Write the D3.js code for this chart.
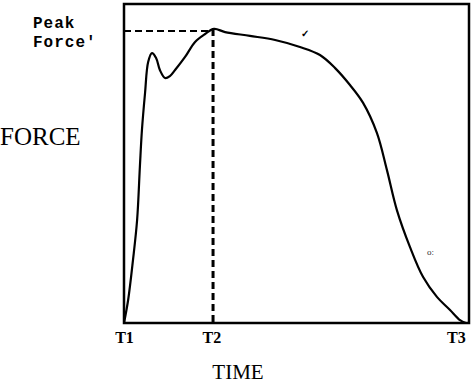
<!DOCTYPE html>
<html>
<head>
<meta charset="utf-8" />
<style>
	body { margin: 0; background: #fff; }
	.curve { fill: none; stroke: #000; stroke-width: 2.2px; }
	.frame { fill: none; stroke: #000; stroke-width: 2.5px; }
	.guide { fill: none; stroke: #000; stroke-dasharray: 7,4; }
	.timeAxis path, .timeAxis line { display: none; }
	.timeAxis text { font-family: 'Liberation Serif', serif; font-weight: bold; font-size: 16px; fill: #000; }
	.ylab, .xlab { font-family: 'Liberation Serif', serif; fill: #000; }
	.peak { font-family: 'Liberation Mono', monospace; font-weight: bold; font-size: 16px; letter-spacing: 1px; fill: #000; }
</style>
</head>
<body>
<div id="chart"></div>
<script src="https://d3js.org/d3.v7.min.js"></script>
<script>

// time (0..100) and force (0..100)
var times  = [0, 1.2, 2.6, 3.8, 4.6, 5.2, 6.1, 7.0, 8.1, 9.3, 10.4, 11.9, 13.3, 14.8, 17.7, 20.6, 23.5, 26.1,
              29.3, 36.5, 43.8, 51.0, 56.8, 61.2, 65.5, 69.3, 73.3, 76.2, 79.1, 82.9, 86.7, 90.7, 94.5, 97.4, 99.1];
var forces = [0, 7.2, 19.7, 32.3, 48.9, 60.5, 72.1, 81.8, 84.6, 83.1, 79.3, 76.8, 77.4, 79.3, 83.4, 88.1, 90.6, 92.2,
              91.2, 90.0, 88.7, 86.5, 84.0, 79.9, 74.6, 69.0, 59.6, 48.0, 35.4, 23.8, 14.4, 8.2, 4.1, 0.9, 0];

var tickTimes  = [0, 25.3, 96.2];
var tickLabels = ['T1', 'T2', 'T3'];

var peakTime = 26.1, peakForce = 92.2;

var W = 474, H = 385;
var x = d3.scaleLinear().domain([0, 100]).range([124, 469]);
var y = d3.scaleLinear().domain([0, 100]).range([323, 4]);

var svg = d3.select('#chart').append('svg')
	.attr('width', W)
	.attr('height', H);

// frame
svg.append('rect')
	.attr('class', 'frame')
	.attr('x', x(0)).attr('y', y(100))
	.attr('width', x(100) - x(0))
	.attr('height', y(0) - y(100));

// dashed guides to the peak
svg.append('line')
	.attr('class', 'guide')
	.attr('stroke-width', 2)
	.attr('x1', x(0)).attr('x2', x(peakTime))
	.attr('y1', y(peakForce) + 2).attr('y2', y(peakForce) + 2);
svg.append('line')
	.attr('class', 'guide')
	.attr('stroke-width', 3)
	.attr('x1', x(peakTime) - 1).attr('x2', x(peakTime) - 1)
	.attr('y1', y(peakForce)).attr('y2', y(0));

// force trace
var data = times.map(function(t, i) { return { t: t, f: forces[i] }; });
var line = d3.line()
	.x(function(d) { return x(d.t); })
	.y(function(d) { return y(d.f); })
	.curve(d3.curveCatmullRom.alpha(0.5));

svg.append('path')
	.datum(data)
	.attr('class', 'curve')
	.attr('d', line);

// time axis labels
svg.append('g')
	.attr('class', 'timeAxis')
	.attr('transform', 'translate(0,' + (y(0) + 1) + ')')
	.call(d3.axisBottom(x).tickValues(tickTimes).tickSize(0).tickPadding(8)
		.tickFormat(function(d, i) { return tickLabels[i]; }));

// axis titles
svg.append('text').attr('class', 'ylab')
	.attr('x', 0).attr('y', 145)
	.style('font-size', '25px')
	.text('FORCE');
svg.append('text').attr('class', 'xlab')
	.attr('x', 238).attr('y', 379)
	.attr('text-anchor', 'middle')
	.style('font-size', '21px')
	.text('TIME');

svg.append('text').attr('class', 'peak')
	.attr('x', 33).attr('y', 28)
	.text('Peak');
svg.append('text').attr('class', 'peak')
	.attr('x', 33).attr('y', 47)
	.text("Force'");

// stray marks of the scan
svg.append('text').attr('x', 301).attr('y', 37)
	.style('font-size', '10px').style('font-weight', 'bold')
	.text('\u2713');
svg.append('text').attr('x', 427).attr('y', 255)
	.style('font-size', '9px').style('fill', '#333')
	.text('o:');

</script>
</body>
</html>
